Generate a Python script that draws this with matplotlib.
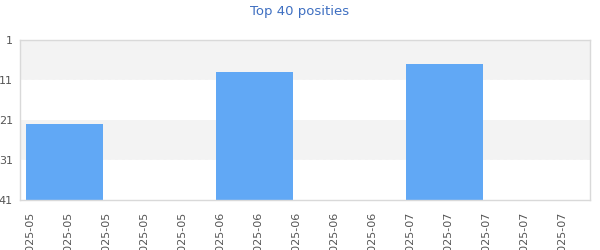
import numpy as np
import matplotlib
matplotlib.use('Agg')
import matplotlib.pyplot as plt

# data
months = ['2025-05', '2025-06', '2025-07']
positions = [22, 9, 7]          # chart position (lower is better)
tick_labels = ['2025-05'] * 5 + ['2025-06'] * 5 + ['2025-07'] * 5
y_ticks = [1, 11, 21, 31, 41]

fig = plt.figure(figsize=(6, 2.5), dpi=100)
ax = fig.add_axes([20 / 600, 1 - 200 / 250, 570 / 600, 160 / 250])

# alternating background bands, dashed white edge at the bottom of each
for lo, hi in [(1, 11), (21, 31)]:
    ax.axhspan(lo, hi, color='#f3f3f3', lw=0, zorder=0)
    ax.axhline(hi, color='white', lw=1, ls=(0, (3, 2)), zorder=1)

# each month spans 5 ticks on the axis
x = np.arange(len(months)) * 5 + 0.91
pos = np.array(positions)
ax.bar(x, 41 - pos, bottom=pos, width=2.03, color='#61a8f5', zorder=2)

ax.set_ylim(41, 1)
ax.set_xlim(-0.263, 14.74)
ax.set_yticks(y_ticks)
ax.set_yticklabels([str(v) for v in y_ticks])
ax.set_xticks(np.arange(len(tick_labels)))
ax.set_xticklabels(tick_labels, rotation=90, va='top')
ax.tick_params(axis='both', length=0, labelsize=8, labelcolor='#555555')
ax.tick_params(axis='x', pad=8.5)
ax.tick_params(axis='y', pad=5)

for s in ax.spines.values():
    s.set_color('#d9d9d9')
    s.set_linewidth(1)

fig.text(0.5, 1 - 11 / 250, 'Top 40 posities', ha='center', va='center',
         fontsize=9.5, color='#3e6fc1')

fig.savefig('out.png', dpi=100)
